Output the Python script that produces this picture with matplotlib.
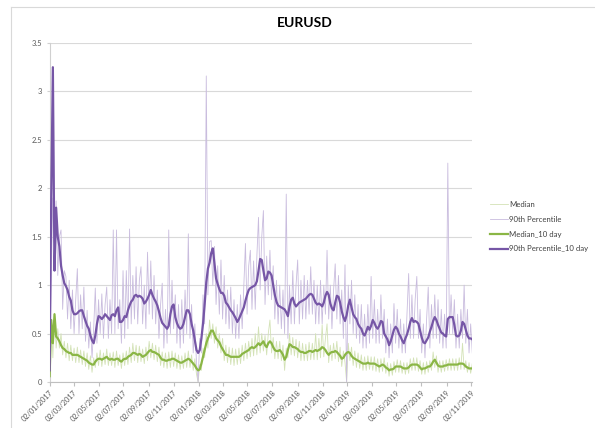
import matplotlib
matplotlib.use('Agg')
import matplotlib.pyplot as plt
import matplotlib.dates as mdates
import pandas as pd
from matplotlib.patches import Rectangle

# ---------------- data ----------------
title = 'EURUSD'
start_date = '2017-01-02'
step_days = 4

series_names = ['Median', '90th Percentile', 'Median_10 day', '90th Percentile_10 day']

median_raw = [
    0.05, 0.64, 0.25, 0.71, 0.35, 0.55, 0.35, 0.5, 0.28, 0.42,
    0.25, 0.4, 0.22, 0.38, 0.22, 0.35, 0.2, 0.36, 0.2, 0.33,
    0.18, 0.32, 0.16, 0.3, 0.13, 0.27, 0.1, 0.25, 0.15, 0.3,
    0.17, 0.33, 0.16, 0.3, 0.18, 0.34, 0.17, 0.3, 0.17, 0.31,
    0.15, 0.32, 0.17, 0.28, 0.14, 0.3, 0.17, 0.32, 0.18, 0.36,
    0.2, 0.4, 0.22, 0.38, 0.2, 0.37, 0.21, 0.34, 0.19, 0.36,
    0.22, 0.42, 0.25, 0.4, 0.23, 0.38, 0.21, 0.36, 0.17, 0.31,
    0.15, 0.3, 0.14, 0.31, 0.15, 0.32, 0.16, 0.3, 0.14, 0.28,
    0.13, 0.27, 0.14, 0.3, 0.15, 0.32, 0.15, 0.28, 0.12, 0.24,
    0.08, 0.0, 0.18, 0.12, 0.35, 0.25, 0.5, 0.35, 0.64, 0.45,
    0.6, 0.4, 0.57, 0.35, 0.5, 0.3, 0.45, 0.22, 0.38, 0.2,
    0.36, 0.18, 0.35, 0.17, 0.34, 0.18, 0.35, 0.19, 0.38, 0.22,
    0.4, 0.24, 0.42, 0.26, 0.45, 0.27, 0.5, 0.28, 0.57, 0.3,
    0.5, 0.32, 0.48, 0.28, 0.5, 0.64, 0.3, 0.46, 0.24, 0.42,
    0.24, 0.42, 0.22, 0.38, 0.12, 0.35, 0.25, 0.5, 0.28, 0.46,
    0.27, 0.44, 0.25, 0.42, 0.22, 0.4, 0.22, 0.39, 0.22, 0.41,
    0.23, 0.4, 0.23, 0.5, 0.23, 0.45, 0.25, 0.59, 0.26, 0.45,
    0.6, 0.2, 0.38, 0.22, 0.4, 0.24, 0.42, 0.21, 0.36, 0.16,
    0.32, 0.2, 0.0, 0.4, 0.22, 0.36, 0.17, 0.32, 0.15, 0.3,
    0.14, 0.28, 0.12, 0.26, 0.12, 0.27, 0.13, 0.26, 0.12, 0.26,
    0.11, 0.24, 0.1, 0.24, 0.11, 0.25, 0.09, 0.2, 0.06, 0.19,
    0.07, 0.21, 0.1, 0.23, 0.1, 0.22, 0.09, 0.2, 0.08, 0.2,
    0.09, 0.24, 0.12, 0.25, 0.12, 0.25, 0.11, 0.22, 0.08, 0.2,
    0.08, 0.21, 0.1, 0.22, 0.12, 0.31, 0.15, 0.27, 0.1, 0.22,
    0.1, 0.22, 0.11, 0.23, 0.12, 0.24, 0.12, 0.24, 0.12, 0.24,
    0.12, 0.25, 0.13, 0.4, 0.13, 0.22, 0.1, 0.2, 0.09, 0.19,
]

p90_raw = [
    0.12, 1.1, 1.9, 1.2, 1.87, 1.1, 1.5, 1.57, 0.75, 1.15,
    1.09, 0.65, 1.05, 0.55, 0.95, 0.5, 0.85, 1.17, 0.5, 0.9,
    0.55, 0.98, 0.42, 0.74, 0.35, 0.62, 0.25, 0.55, 0.97, 0.4,
    0.85, 0.5, 0.91, 0.45, 0.8, 0.98, 0.45, 0.85, 0.5, 1.57,
    0.5, 1.57, 0.55, 0.85, 0.4, 1.15, 0.45, 1.15, 0.55, 1.58,
    0.6, 1.1, 0.65, 1.19, 0.6, 1.05, 1.19, 0.6, 1.0, 0.55,
    1.34, 0.7, 1.25, 0.65, 1.1, 0.6, 0.95, 0.45, 0.8, 1.02,
    0.35, 0.75, 0.4, 1.57, 0.5, 1.05, 0.55, 0.9, 0.4, 0.8,
    0.35, 0.85, 0.4, 0.95, 0.5, 1.53, 0.45, 0.8, 0.3, 0.6,
    0.2, 0.0, 0.45, 0.3, 0.9, 0.6, 3.16, 0.9, 1.45, 1.46,
    1.0, 1.4, 0.8, 1.2, 0.7, 1.26, 0.65, 1.1, 0.6, 0.95,
    0.55, 0.98, 0.5, 0.85, 0.45, 0.8, 0.45, 0.9, 0.55, 1.0,
    1.43, 0.7, 1.2, 1.36, 0.75, 1.25, 0.75, 1.3, 1.70, 0.95,
    1.5, 1.77, 0.8, 1.3, 0.9, 1.36, 0.85, 1.2, 0.65, 1.05,
    0.6, 1.0, 0.55, 0.95, 0.5, 1.94, 0.45, 1.0, 0.6, 1.15,
    0.6, 1.0, 1.26, 0.6, 1.05, 0.65, 1.1, 0.65, 1.05, 0.7,
    1.19, 0.7, 1.05, 0.6, 1.0, 0.6, 1.05, 0.6, 1.0, 0.7,
    1.36, 0.65, 1.0, 0.55, 0.95, 1.22, 0.65, 1.1, 0.6, 0.95,
    0.45, 1.21, 0.0, 1.0, 0.6, 1.05, 0.5, 0.9, 0.45, 0.8,
    0.4, 0.8, 0.35, 0.7, 0.35, 0.8, 0.4, 1.09, 0.45, 0.85,
    0.4, 0.75, 0.4, 0.9, 0.45, 0.75, 0.3, 0.65, 0.25, 0.6,
    0.3, 0.81, 0.4, 0.75, 0.35, 0.65, 0.3, 0.6, 0.3, 0.7,
    1.12, 0.45, 0.9, 0.45, 0.85, 1.09, 0.45, 0.75, 0.3, 0.6,
    0.25, 0.65, 0.98, 0.35, 0.8, 0.45, 0.9, 0.45, 0.85, 0.4,
    0.75, 0.35, 0.7, 0.35, 2.26, 0.5, 0.9, 0.5, 0.85, 0.35,
    0.7, 0.35, 0.75, 0.45, 1.0, 0.4, 0.75, 0.3, 0.6, 0.3,
]

median_10day = [
    0.06, 0.64, 0.40, 0.70, 0.47, 0.45, 0.42, 0.38, 0.35, 0.34,
    0.32, 0.31, 0.30, 0.30, 0.28, 0.28, 0.28, 0.28, 0.27, 0.26,
    0.25, 0.24, 0.23, 0.22, 0.20, 0.19, 0.18, 0.18, 0.21, 0.23,
    0.24, 0.24, 0.23, 0.24, 0.25, 0.26, 0.24, 0.23, 0.24, 0.23,
    0.23, 0.24, 0.24, 0.22, 0.21, 0.23, 0.24, 0.24, 0.26, 0.27,
    0.28, 0.30, 0.30, 0.29, 0.28, 0.29, 0.28, 0.26, 0.27, 0.28,
    0.30, 0.32, 0.33, 0.31, 0.31, 0.30, 0.29, 0.28, 0.25, 0.23,
    0.23, 0.22, 0.22, 0.23, 0.23, 0.24, 0.24, 0.23, 0.22, 0.21,
    0.20, 0.20, 0.21, 0.22, 0.23, 0.24, 0.23, 0.21, 0.19, 0.17,
    0.14, 0.12, 0.13, 0.19, 0.26, 0.33, 0.40, 0.45, 0.49, 0.53,
    0.53, 0.49, 0.45, 0.43, 0.41, 0.37, 0.34, 0.31, 0.28, 0.28,
    0.27, 0.26, 0.26, 0.26, 0.26, 0.26, 0.26, 0.27, 0.29, 0.30,
    0.31, 0.32, 0.33, 0.35, 0.36, 0.35, 0.36, 0.38, 0.40, 0.38,
    0.40, 0.42, 0.38, 0.36, 0.40, 0.42, 0.40, 0.36, 0.33, 0.32,
    0.32, 0.33, 0.31, 0.28, 0.23, 0.26, 0.33, 0.39, 0.38, 0.36,
    0.36, 0.35, 0.34, 0.32, 0.31, 0.31, 0.30, 0.30, 0.31, 0.32,
    0.32, 0.31, 0.32, 0.33, 0.32, 0.33, 0.34, 0.36, 0.35, 0.33,
    0.30, 0.28, 0.30, 0.31, 0.31, 0.32, 0.31, 0.29, 0.27, 0.24,
    0.25, 0.28, 0.30, 0.31, 0.30, 0.27, 0.25, 0.24, 0.23, 0.22,
    0.21, 0.20, 0.19, 0.19, 0.19, 0.20, 0.19, 0.19, 0.19, 0.19,
    0.18, 0.17, 0.16, 0.17, 0.18, 0.17, 0.15, 0.14, 0.12, 0.13,
    0.13, 0.14, 0.16, 0.16, 0.16, 0.16, 0.15, 0.14, 0.14, 0.14,
    0.15, 0.17, 0.18, 0.18, 0.18, 0.18, 0.17, 0.15, 0.13, 0.14,
    0.14, 0.15, 0.16, 0.16, 0.18, 0.21, 0.23, 0.20, 0.17, 0.16,
    0.16, 0.16, 0.17, 0.17, 0.18, 0.18, 0.18, 0.18, 0.18, 0.18,
    0.18, 0.19, 0.19, 0.19, 0.18, 0.16, 0.15, 0.14, 0.14, 0.14,
]

p90_10day = [
    0.12, 1.9, 3.25, 1.15, 1.8, 1.5, 1.4, 1.2, 1.1, 1.02,
    0.99, 0.95, 0.88, 0.84, 0.74, 0.70, 0.70, 0.71, 0.73, 0.74,
    0.74, 0.68, 0.63, 0.58, 0.55, 0.48, 0.43, 0.40, 0.48, 0.60,
    0.68, 0.67, 0.65, 0.67, 0.70, 0.68, 0.66, 0.64, 0.69, 0.70,
    0.68, 0.74, 0.77, 0.62, 0.62, 0.64, 0.68, 0.67, 0.74, 0.79,
    0.83, 0.85, 0.89, 0.90, 0.88, 0.89, 0.88, 0.86, 0.81, 0.83,
    0.86, 0.90, 0.95, 0.90, 0.86, 0.83, 0.79, 0.73, 0.66, 0.61,
    0.59, 0.57, 0.55, 0.58, 0.70, 0.78, 0.80, 0.67, 0.61, 0.57,
    0.55, 0.56, 0.60, 0.67, 0.74, 0.74, 0.70, 0.60, 0.53, 0.43,
    0.33, 0.30, 0.33, 0.45, 0.60, 0.80, 1.03, 1.17, 1.23, 1.33,
    1.38, 1.22, 1.07, 1.01, 0.96, 0.92, 0.92, 0.89, 0.82, 0.80,
    0.77, 0.74, 0.72, 0.69, 0.66, 0.62, 0.65, 0.69, 0.73, 0.77,
    0.84, 0.90, 0.95, 0.97, 0.98, 0.99, 1.00, 1.04, 1.15, 1.27,
    1.26, 1.15, 1.05, 1.07, 1.14, 1.13, 1.10, 1.00, 0.90, 0.83,
    0.79, 0.78, 0.77, 0.76, 0.75, 0.72, 0.68, 0.78, 0.85, 0.87,
    0.81, 0.78, 0.80, 0.82, 0.83, 0.84, 0.85, 0.86, 0.88, 0.90,
    0.91, 0.90, 0.86, 0.82, 0.80, 0.81, 0.80, 0.78, 0.82, 0.89,
    0.93, 0.90, 0.81, 0.76, 0.74, 0.82, 0.89, 0.88, 0.82, 0.73,
    0.67, 0.63, 0.69, 0.79, 0.85, 0.77, 0.70, 0.67, 0.65, 0.60,
    0.57, 0.55, 0.50, 0.48, 0.52, 0.57, 0.54, 0.58, 0.64, 0.61,
    0.57, 0.55, 0.58, 0.63, 0.62, 0.50, 0.47, 0.44, 0.38, 0.42,
    0.48, 0.54, 0.57, 0.55, 0.50, 0.47, 0.43, 0.40, 0.45, 0.49,
    0.55, 0.62, 0.66, 0.62, 0.63, 0.62, 0.60, 0.53, 0.46, 0.41,
    0.40, 0.43, 0.46, 0.52, 0.57, 0.63, 0.67, 0.64, 0.59, 0.55,
    0.51, 0.50, 0.48, 0.47, 0.65, 0.67, 0.67, 0.67, 0.59, 0.48,
    0.47, 0.48, 0.53, 0.62, 0.60, 0.54, 0.48, 0.45, 0.45, 0.44,
]

tick_labels = ['02/01/2017', '02/03/2017', '02/05/2017', '02/07/2017', '02/09/2017', '02/11/2017',
               '02/01/2018', '02/03/2018', '02/05/2018', '02/07/2018', '02/09/2018', '02/11/2018',
               '02/01/2019', '02/03/2019', '02/05/2019', '02/07/2019', '02/09/2019', '02/11/2019']
y_ticks = [0, 0.5, 1, 1.5, 2, 2.5, 3, 3.5]

# ---------------- styling ----------------
col_med_raw = '#D3E2B6'
col_p90_raw = '#C9BCDE'
col_med_10 = '#8AB645'
col_p90_10 = '#7656A6'
grid_col = '#D9D9D9'
text_col = '#595959'
font = ['Lato', 'DejaVu Sans']

plt.rcParams['font.family'] = font

dates = pd.date_range(start_date, periods=len(p90_10day), freq=f'{step_days}D')
tick_dates = pd.to_datetime(tick_labels, format='%d/%m/%Y')

W, H = 595, 428
fig = plt.figure(figsize=(W / 100, H / 100), dpi=100)

# chart border (Excel chart area): only top and left edges are visible
fig.add_artist(plt.Line2D([11 / W, 11 / W], [0, 1 - 7 / H], transform=fig.transFigure,
                          color='#D9D9D9', lw=0.8))
fig.add_artist(plt.Line2D([11 / W, 1], [1 - 7 / H, 1 - 7 / H], transform=fig.transFigure,
                          color='#D9D9D9', lw=0.8))

left, right, bottom, top = 49.6 / W, 472.3 / W, 1 - 382 / H, 1 - 43 / H
ax = fig.add_axes([left, bottom, right - left, top - bottom])

l1, = ax.plot(dates, median_raw, color=col_med_raw, lw=0.6, zorder=2)
l2, = ax.plot(dates, p90_raw, color=col_p90_raw, lw=0.6, zorder=3)
l3, = ax.plot(dates, median_10day, color=col_med_10, lw=1.6, zorder=4)
l4, = ax.plot(dates, p90_10day, color=col_p90_10, lw=1.6, zorder=5)

ax.set_xlim(dates[0], dates[-1])
ax.set_ylim(0, 3.5)
ax.set_yticks(y_ticks)
ax.set_yticklabels([f'{v:g}' for v in y_ticks])
ax.set_xticks(tick_dates)
ax.set_xticklabels(tick_labels, rotation=45, ha='right', va='top', rotation_mode='anchor')

ax.grid(axis='y', color=grid_col, lw=0.8)
ax.set_axisbelow(True)
for s in ['top', 'right']:
    ax.spines[s].set_visible(False)
ax.spines['left'].set_color('#D0D0D0')
ax.spines['bottom'].set_color('#BFBFBF')
ax.spines['left'].set_linewidth(0.8)
ax.spines['bottom'].set_linewidth(0.8)
ax.tick_params(axis='y', length=2.5, width=0.8, color='#D0D0D0', labelsize=5.5, labelcolor=text_col, pad=3)
ax.tick_params(axis='x', length=3, width=0.8, color='#BFBFBF', labelsize=5.3, labelcolor=text_col, pad=2)

fig.text(305 / W, 1 - 23 / H, title, ha='center', va='center', fontsize=10, fontweight='bold', color='#000000')

leg = fig.legend([l1, l2, l3, l4], series_names, loc='upper left',
                 bbox_to_anchor=(490 / W, 1 - 201 / H), frameon=False, fontsize=5.6,
                 handlelength=2.3, handletextpad=0.2, labelspacing=1.0, borderpad=0, borderaxespad=0)
for t in leg.get_texts():
    t.set_color('#404040')

fig.savefig('out.png', dpi=100)
